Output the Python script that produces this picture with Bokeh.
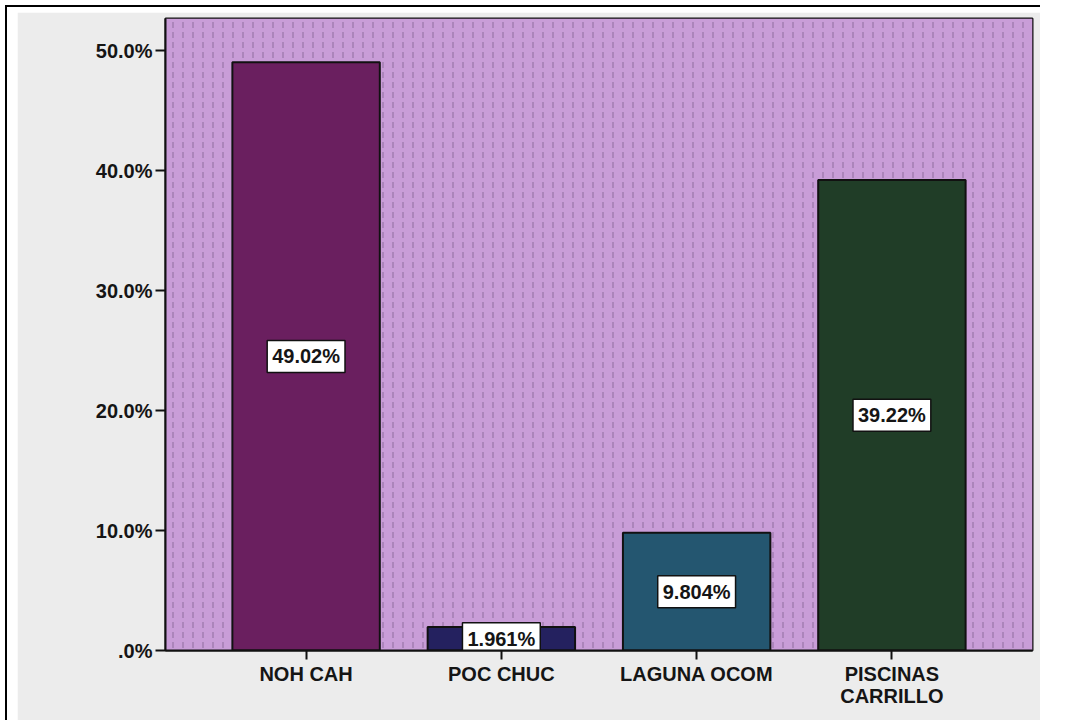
from bokeh.plotting import figure
from bokeh.models import ColumnDataSource, Range1d, FixedTicker, BoxAnnotation
from bokeh.layouts import column
from bokeh.core.properties import value
from bokeh.embed import file_html
from bokeh.resources import INLINE

categories = ["NOH CAH", "POC CHUC", "LAGUNA OCOM", "PISCINAS\nCARRILLO"]
percentages = [49.02, 1.961, 9.804, 39.22]
value_labels = ["49.02%", "1.961%", "9.804%", "39.22%"]
bar_colors = ["#6a1f5f", "#24215f", "#245670", "#203d27"]
y_ticks = [0, 10, 20, 30, 40, 50]
y_tick_labels = [".0%", "10.0%", "20.0%", "30.0%", "40.0%", "50.0%"]

positions = list(range(1, len(categories) + 1))
FONT = value("Liberation Sans")

src = ColumnDataSource(dict(
    x=positions,
    top=percentages,
    mid=[v / 2 for v in percentages],
    lab=value_labels,
    color=bar_colors,
))

p = figure(width=1023, height=708, output_backend="svg", toolbar_location=None,
           x_range=Range1d(0.28, 4.72), y_range=Range1d(0, 52.67))
p.min_border_left = 148
p.min_border_top = 6
p.min_border_right = 8
p.min_border_bottom = 70
p.border_fill_color = "#ececec"
p.background_fill_color = "#c99dd8"
p.outline_line_color = "#111111"
p.outline_line_width = 2
p.xgrid.visible = False
p.ygrid.visible = False

bg = BoxAnnotation(fill_color="#c99dd8", fill_alpha=1.0, line_alpha=0,
                   hatch_pattern=":", hatch_scale=10, hatch_color="#4a3358",
                   hatch_alpha=0.45, hatch_weight=1.0, level="underlay")
p.add_layout(bg)

p.vbar(x="x", top="top", bottom=0, width=0.755, source=src,
       fill_color="color", line_color="#111111", line_width=2)

p.text(x="x", y="mid", text="lab", source=src, text_font=FONT,
       text_font_style="bold", text_font_size="20px", text_color="#151515",
       text_align="center", text_baseline="middle",
       background_fill_color="white", border_line_color="#111111",
       border_line_width=1.5, padding=5)

for ax in (p.xaxis[0], p.yaxis[0]):
    ax.axis_line_color = "#111111"
    ax.axis_line_width = 2
    ax.major_tick_line_color = "#111111"
    ax.major_tick_line_width = 2
    ax.minor_tick_line_color = None
    ax.major_label_text_font = "Liberation Sans"
    ax.major_label_text_font_style = "bold"
    ax.major_label_text_color = "#151515"

p.yaxis.ticker = FixedTicker(ticks=y_ticks)
p.yaxis.major_label_overrides = {t: l for t, l in zip(y_ticks, y_tick_labels)}
p.yaxis.major_tick_out = 10
p.yaxis.major_tick_in = 0
p.yaxis.major_label_standoff = 3
p.yaxis.major_label_text_font_size = "20px"

p.xaxis.ticker = FixedTicker(ticks=positions)
p.xaxis.major_label_overrides = {pos: c for pos, c in zip(positions, categories)}
p.xaxis.major_tick_out = 9
p.xaxis.major_tick_in = 0
p.xaxis.major_label_standoff = 3
p.xaxis.major_label_text_font_size = "20px"
p.xaxis.major_label_text_line_height = 1.0

layout = column(p, styles={
    "margin-left": "5px", "margin-top": "5px",
    "border-top": "2px solid black", "border-left": "2px solid black",
    "padding-left": "10px", "padding-top": "5px", "background-color": "white",
})

open("out.html", "w").write(file_html(layout, INLINE))
